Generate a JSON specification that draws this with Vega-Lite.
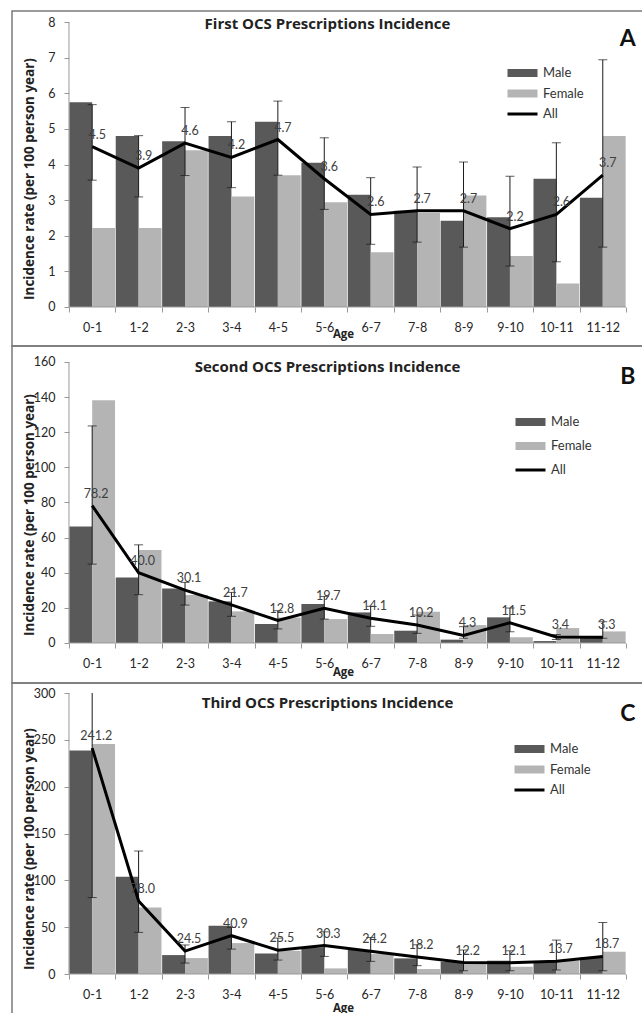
{
"$schema": "https://vega.github.io/schema/vega-lite/v6.json",
"padding": {"left": 11, "top": 10, "right": 0, "bottom": 0},
"spacing": 0,
"bounds": "flush",
"datasets": {
"bars": [
{"panel":"A","age":"0-1","sex":"Male","value":5.75},{"panel":"A","age":"1-2","sex":"Male","value":4.8},{"panel":"A","age":"2-3","sex":"Male","value":4.65},{"panel":"A","age":"3-4","sex":"Male","value":4.8},{"panel":"A","age":"4-5","sex":"Male","value":5.2},{"panel":"A","age":"5-6","sex":"Male","value":4.05},{"panel":"A","age":"6-7","sex":"Male","value":3.15},{"panel":"A","age":"7-8","sex":"Male","value":2.7},{"panel":"A","age":"8-9","sex":"Male","value":2.42},{"panel":"A","age":"9-10","sex":"Male","value":2.52},{"panel":"A","age":"10-11","sex":"Male","value":3.6},{"panel":"A","age":"11-12","sex":"Male","value":3.07},
{"panel":"A","age":"0-1","sex":"Female","value":2.22},{"panel":"A","age":"1-2","sex":"Female","value":2.22},{"panel":"A","age":"2-3","sex":"Female","value":4.4},{"panel":"A","age":"3-4","sex":"Female","value":3.1},{"panel":"A","age":"4-5","sex":"Female","value":3.7},{"panel":"A","age":"5-6","sex":"Female","value":2.94},{"panel":"A","age":"6-7","sex":"Female","value":1.54},{"panel":"A","age":"7-8","sex":"Female","value":2.64},{"panel":"A","age":"8-9","sex":"Female","value":3.13},{"panel":"A","age":"9-10","sex":"Female","value":1.43},{"panel":"A","age":"10-11","sex":"Female","value":0.66},{"panel":"A","age":"11-12","sex":"Female","value":4.8},
{"panel":"B","age":"0-1","sex":"Male","value":66.4},{"panel":"B","age":"1-2","sex":"Male","value":37.3},{"panel":"B","age":"2-3","sex":"Male","value":31.1},{"panel":"B","age":"3-4","sex":"Male","value":23.7},{"panel":"B","age":"4-5","sex":"Male","value":10.8},{"panel":"B","age":"5-6","sex":"Male","value":22.2},{"panel":"B","age":"6-7","sex":"Male","value":17.4},{"panel":"B","age":"7-8","sex":"Male","value":7.0},{"panel":"B","age":"8-9","sex":"Male","value":1.9},{"panel":"B","age":"9-10","sex":"Male","value":14.6},{"panel":"B","age":"10-11","sex":"Male","value":1.1},{"panel":"B","age":"11-12","sex":"Male","value":3.2},
{"panel":"B","age":"0-1","sex":"Female","value":138.2},{"panel":"B","age":"1-2","sex":"Female","value":52.9},{"panel":"B","age":"2-3","sex":"Female","value":27.3},{"panel":"B","age":"3-4","sex":"Female","value":18.0},{"panel":"B","age":"4-5","sex":"Female","value":14.5},{"panel":"B","age":"5-6","sex":"Female","value":13.6},{"panel":"B","age":"6-7","sex":"Female","value":5.1},{"panel":"B","age":"7-8","sex":"Female","value":17.8},{"panel":"B","age":"8-9","sex":"Female","value":10.2},{"panel":"B","age":"9-10","sex":"Female","value":3.2},{"panel":"B","age":"10-11","sex":"Female","value":8.5},{"panel":"B","age":"11-12","sex":"Female","value":6.6},
{"panel":"C","age":"0-1","sex":"Male","value":238.6},{"panel":"C","age":"1-2","sex":"Male","value":103.7},{"panel":"C","age":"2-3","sex":"Male","value":20.2},{"panel":"C","age":"3-4","sex":"Male","value":51.5},{"panel":"C","age":"4-5","sex":"Male","value":22.0},{"panel":"C","age":"5-6","sex":"Male","value":28.4},{"panel":"C","age":"6-7","sex":"Male","value":25.6},{"panel":"C","age":"7-8","sex":"Male","value":16.7},{"panel":"C","age":"8-9","sex":"Male","value":13.1},{"panel":"C","age":"9-10","sex":"Male","value":14.2},{"panel":"C","age":"10-11","sex":"Male","value":13.5},{"panel":"C","age":"11-12","sex":"Male","value":17.7},
{"panel":"C","age":"0-1","sex":"Female","value":245.6},{"panel":"C","age":"1-2","sex":"Female","value":71.0},{"panel":"C","age":"2-3","sex":"Female","value":17.0},{"panel":"C","age":"3-4","sex":"Female","value":33.0},{"panel":"C","age":"4-5","sex":"Female","value":24.8},{"panel":"C","age":"5-6","sex":"Female","value":6.0},{"panel":"C","age":"6-7","sex":"Female","value":21.3},{"panel":"C","age":"7-8","sex":"Female","value":5.3},{"panel":"C","age":"8-9","sex":"Female","value":10.6},{"panel":"C","age":"9-10","sex":"Female","value":7.8},{"panel":"C","age":"10-11","sex":"Female","value":14.2},{"panel":"C","age":"11-12","sex":"Female","value":23.8}
],
"all": [
{"panel":"A","age":"0-1","value":4.5,"lo":3.56,"hi":5.68},{"panel":"A","age":"1-2","value":3.9,"lo":3.09,"hi":4.81},{"panel":"A","age":"2-3","value":4.6,"lo":3.69,"hi":5.6},{"panel":"A","age":"3-4","value":4.2,"lo":3.35,"hi":5.2},{"panel":"A","age":"4-5","value":4.7,"lo":3.7,"hi":5.78},{"panel":"A","age":"5-6","value":3.6,"lo":2.74,"hi":4.75},{"panel":"A","age":"6-7","value":2.6,"lo":1.76,"hi":3.63},{"panel":"A","age":"7-8","value":2.7,"lo":1.82,"hi":3.93},{"panel":"A","age":"8-9","value":2.7,"lo":1.68,"hi":4.07},{"panel":"A","age":"9-10","value":2.2,"lo":1.15,"hi":3.67},{"panel":"A","age":"10-11","value":2.6,"lo":1.27,"hi":4.61},{"panel":"A","age":"11-12","value":3.7,"lo":1.68,"hi":6.94},
{"panel":"B","age":"0-1","value":78.2,"lo":44.9,"hi":123.6},{"panel":"B","age":"1-2","value":40.0,"lo":27.5,"hi":55.9},{"panel":"B","age":"2-3","value":30.1,"lo":21.6,"hi":34.5},{"panel":"B","age":"3-4","value":21.7,"lo":15.2,"hi":28.8},{"panel":"B","age":"4-5","value":12.8,"lo":8.0,"hi":18.4},{"panel":"B","age":"5-6","value":19.7,"lo":13.6,"hi":26.5},{"panel":"B","age":"6-7","value":14.1,"lo":9.5,"hi":20.9},{"panel":"B","age":"7-8","value":10.2,"lo":5.5,"hi":15.9},{"panel":"B","age":"8-9","value":4.3,"lo":2.7,"hi":9.3},{"panel":"B","age":"9-10","value":11.5,"lo":6.4,"hi":19.9},{"panel":"B","age":"10-11","value":3.4,"lo":2.0,"hi":4.8},{"panel":"B","age":"11-12","value":3.3,"lo":2.7,"hi":12.1},
{"panel":"C","age":"0-1","value":241.2,"lo":81.6,"hi":300},{"panel":"C","age":"1-2","value":78.0,"lo":44.4,"hi":131.3},{"panel":"C","age":"2-3","value":24.5,"lo":11.7,"hi":31.0},{"panel":"C","age":"3-4","value":40.9,"lo":26.6,"hi":49.7},{"panel":"C","age":"4-5","value":25.5,"lo":14.9,"hi":38.3},{"panel":"C","age":"5-6","value":30.3,"lo":18.8,"hi":45.0},{"panel":"C","age":"6-7","value":24.2,"lo":13.5,"hi":39.0},{"panel":"C","age":"7-8","value":18.2,"lo":8.9,"hi":31.2},{"panel":"C","age":"8-9","value":12.2,"lo":3.5,"hi":25.6},{"panel":"C","age":"9-10","value":12.1,"lo":3.5,"hi":24.8},{"panel":"C","age":"10-11","value":13.7,"lo":4.3,"hi":36.2},{"panel":"C","age":"11-12","value":18.7,"lo":3.5,"hi":55.0}
]
},
"vconcat": [
{
"width": 631, "height": 335,
"title": {"text": "First OCS Prescriptions Incidence", "offset": -21},
"encoding": {"x": {"field": "age", "type": "nominal",
  "scale": {"domain": ["0-1","1-2","2-3","3-4","4-5","5-6","6-7","7-8","8-9","9-10","10-11","11-12"], "paddingInner": 0, "paddingOuter": 0.797, "align": 0.77},
  "axis": {"title": "Age", "titleX": 331, "titlePadding": -5, "offset": -39}}},
"layer": [
{"data": {"name": "bars"}, "transform": [{"filter": "datum.panel === 'A'"}], "mark": {"type": "bar"},
 "encoding": {
  "xOffset": {"field": "sex", "type": "nominal", "sort": ["Male","Female"], "scale": {"paddingInner": 0, "paddingOuter": 0.015}},
  "y": {"field": "value", "type": "quantitative", "scale": {"domain": [-1.095, 8.309], "nice": false, "zero": false},
   "axis": {"title": "Incidence rate (per 100 person year)", "values": [0,1,2,3,4,5,6,7,8], "offset": -57}},
  "color": {"field": "sex", "type": "nominal", "scale": {"domain": ["Male","Female","All"], "range": ["#595959","#b4b4b4","#000000"]},
   "legend": {"orient": "none", "legendX": 504, "legendY": 55.5, "title": null, "rowPadding": 6.5,
    "encode": {"symbols": {"update": {"shape": {"signal": "datum.value === 'All' ? 'M-3,-0.3H3V0.3H-3Z' : 'M-3,-0.8H3V0.8H-3Z'"}, "fill": {"signal": "datum.value === 'Male' ? '#595959' : datum.value === 'Female' ? '#b4b4b4' : '#000000'"}, "stroke": {"value": "transparent"}, "opacity": {"value": 1}}}}}}
 }},
{"data": {"values": [{}]}, "mark": {"type": "rule", "color": "#9a9a9a", "strokeWidth": 1},
 "encoding": {"x": {"datum": "0-1", "type": "nominal", "bandPosition": 0}, "y": {"datum": 0, "type": "quantitative"}, "y2": {"datum": 8}}},
{"data": {"values": [{}]}, "mark": {"type": "rule", "color": "#9a9a9a", "strokeWidth": 1},
 "encoding": {"x": {"datum": "0-1", "type": "nominal", "bandPosition": 0}, "x2": {"datum": "11-12", "bandPosition": 1}, "y": {"datum": 0, "type": "quantitative"}}},
{"data": {"name": "all"}, "transform": [{"filter": "datum.panel === 'A'"}], "mark": {"type": "rule", "color": "#1a1a1a", "strokeWidth": 1},
 "encoding": {"y": {"field": "lo", "type": "quantitative"}, "y2": {"field": "hi"}}},
{"data": {"name": "all"}, "transform": [{"filter": "datum.panel === 'A'"}, {"fold": ["lo","hi"], "as": ["k","v"]}, {"filter": "datum.v < 300"}], "mark": {"type": "tick", "color": "#1a1a1a", "thickness": 1, "size": 9},
 "encoding": {"y": {"field": "v", "type": "quantitative"}}},
{"data": {"name": "all"}, "transform": [{"filter": "datum.panel === 'A'"}], "mark": {"type": "line", "color": "#000000", "strokeWidth": 3},
 "encoding": {"y": {"field": "value", "type": "quantitative"}, "order": {"value": null}}},
{"data": {"name": "all"}, "transform": [{"filter": "datum.panel === 'A'"}], "mark": {"type": "text", "fontSize": 12.5, "color": "#404040", "dx": 5, "dy": -12},
 "encoding": {"y": {"field": "value", "type": "quantitative"}, "text": {"field": "value", "type": "quantitative", "format": ".1f"}}},
{"data": {"values": [{}]}, "mark": {"type": "text", "text": "A", "fontSize": 23, "fontWeight": "bold", "color": "#111111", "dx": 25},
 "encoding": {"x": {"datum": "11-12", "type": "nominal"}, "y": {"datum": 7.52, "type": "quantitative"}}}
]
},
{
"width": 631, "height": 337,
"title": {"text": "Second OCS Prescriptions Incidence", "offset": -29},
"encoding": {"x": {"field": "age", "type": "nominal",
  "scale": {"domain": ["0-1","1-2","2-3","3-4","4-5","5-6","6-7","7-8","8-9","9-10","10-11","11-12"], "paddingInner": 0, "paddingOuter": 0.797, "align": 0.77},
  "axis": {"title": "Age", "titleX": 331, "titlePadding": -3, "offset": -40}}},
"layer": [
{"data": {"name": "bars"}, "transform": [{"filter": "datum.panel === 'B'"}], "mark": {"type": "bar"},
 "encoding": {
  "xOffset": {"field": "sex", "type": "nominal", "sort": ["Male","Female"], "scale": {"paddingInner": 0, "paddingOuter": 0.015}},
  "y": {"field": "value", "type": "quantitative", "scale": {"domain": [-22.78, 169.11], "nice": false, "zero": false},
   "axis": {"title": "Incidence rate (per 100 person year)", "values": [0,20,40,60,80,100,120,140,160], "offset": -57}},
  "color": {"field": "sex", "type": "nominal", "scale": {"domain": ["Male","Female","All"], "range": ["#595959","#b4b4b4","#000000"]},
   "legend": {"orient": "none", "legendX": 512, "legendY": 69.5, "title": null, "rowPadding": 10,
    "encode": {"symbols": {"update": {"shape": {"signal": "datum.value === 'All' ? 'M-3,-0.3H3V0.3H-3Z' : 'M-3,-0.8H3V0.8H-3Z'"}, "fill": {"signal": "datum.value === 'Male' ? '#595959' : datum.value === 'Female' ? '#b4b4b4' : '#000000'"}, "stroke": {"value": "transparent"}, "opacity": {"value": 1}}}}}}
 }},
{"data": {"values": [{}]}, "mark": {"type": "rule", "color": "#9a9a9a", "strokeWidth": 1},
 "encoding": {"x": {"datum": "0-1", "type": "nominal", "bandPosition": 0}, "y": {"datum": 0, "type": "quantitative"}, "y2": {"datum": 160}}},
{"data": {"values": [{}]}, "mark": {"type": "rule", "color": "#9a9a9a", "strokeWidth": 1},
 "encoding": {"x": {"datum": "0-1", "type": "nominal", "bandPosition": 0}, "x2": {"datum": "11-12", "bandPosition": 1}, "y": {"datum": 0, "type": "quantitative"}}},
{"data": {"name": "all"}, "transform": [{"filter": "datum.panel === 'B'"}], "mark": {"type": "rule", "color": "#1a1a1a", "strokeWidth": 1},
 "encoding": {"y": {"field": "lo", "type": "quantitative"}, "y2": {"field": "hi"}}},
{"data": {"name": "all"}, "transform": [{"filter": "datum.panel === 'B'"}, {"fold": ["lo","hi"], "as": ["k","v"]}, {"filter": "datum.v < 300"}], "mark": {"type": "tick", "color": "#1a1a1a", "thickness": 1, "size": 9},
 "encoding": {"y": {"field": "v", "type": "quantitative"}}},
{"data": {"name": "all"}, "transform": [{"filter": "datum.panel === 'B'"}], "mark": {"type": "line", "color": "#000000", "strokeWidth": 3},
 "encoding": {"y": {"field": "value", "type": "quantitative"}, "order": {"value": null}}},
{"data": {"name": "all"}, "transform": [{"filter": "datum.panel === 'B'"}], "mark": {"type": "text", "fontSize": 12.5, "color": "#404040", "dx": 4, "dy": -12},
 "encoding": {"y": {"field": "value", "type": "quantitative"}, "text": {"field": "value", "type": "quantitative", "format": ".1f"}}},
{"data": {"values": [{}]}, "mark": {"type": "text", "text": "B", "fontSize": 23, "fontWeight": "bold", "color": "#111111", "dx": 25},
 "encoding": {"x": {"datum": "11-12", "type": "nominal"}, "y": {"datum": 151.5, "type": "quantitative"}}}
]
},
{
"width": 631, "height": 331,
"title": {"text": "Third OCS Prescriptions Incidence", "offset": -28},
"encoding": {"x": {"field": "age", "type": "nominal",
  "scale": {"domain": ["0-1","1-2","2-3","3-4","4-5","5-6","6-7","7-8","8-9","9-10","10-11","11-12"], "paddingInner": 0, "paddingOuter": 0.797, "align": 0.77},
  "axis": {"title": "Age", "titleX": 331, "titlePadding": 2, "offset": -40}}},
"layer": [
{"data": {"name": "bars"}, "transform": [{"filter": "datum.panel === 'C'"}], "mark": {"type": "bar"},
 "encoding": {
  "xOffset": {"field": "sex", "type": "nominal", "sort": ["Male","Female"], "scale": {"paddingInner": 0, "paddingOuter": 0.015}},
  "y": {"field": "value", "type": "quantitative", "scale": {"domain": [-42.7, 310.68], "nice": false, "zero": false},
   "axis": {"title": "Incidence rate (per 100 person year)", "values": [0,50,100,150,200,250,300], "offset": -57}},
  "color": {"field": "sex", "type": "nominal", "scale": {"domain": ["Male","Female","All"], "range": ["#595959","#b4b4b4","#000000"]},
   "legend": {"orient": "none", "legendX": 511, "legendY": 59.5, "title": null, "rowPadding": 6.5,
    "encode": {"symbols": {"update": {"shape": {"signal": "datum.value === 'All' ? 'M-3,-0.3H3V0.3H-3Z' : 'M-3,-0.8H3V0.8H-3Z'"}, "fill": {"signal": "datum.value === 'Male' ? '#595959' : datum.value === 'Female' ? '#b4b4b4' : '#000000'"}, "stroke": {"value": "transparent"}, "opacity": {"value": 1}}}}}}
 }},
{"data": {"values": [{}]}, "mark": {"type": "rule", "color": "#9a9a9a", "strokeWidth": 1},
 "encoding": {"x": {"datum": "0-1", "type": "nominal", "bandPosition": 0}, "y": {"datum": 0, "type": "quantitative"}, "y2": {"datum": 300}}},
{"data": {"values": [{}]}, "mark": {"type": "rule", "color": "#9a9a9a", "strokeWidth": 1},
 "encoding": {"x": {"datum": "0-1", "type": "nominal", "bandPosition": 0}, "x2": {"datum": "11-12", "bandPosition": 1}, "y": {"datum": 0, "type": "quantitative"}}},
{"data": {"name": "all"}, "transform": [{"filter": "datum.panel === 'C'"}], "mark": {"type": "rule", "color": "#1a1a1a", "strokeWidth": 1},
 "encoding": {"y": {"field": "lo", "type": "quantitative"}, "y2": {"field": "hi"}}},
{"data": {"name": "all"}, "transform": [{"filter": "datum.panel === 'C'"}, {"fold": ["lo","hi"], "as": ["k","v"]}, {"filter": "datum.v < 300"}], "mark": {"type": "tick", "color": "#1a1a1a", "thickness": 1, "size": 9},
 "encoding": {"y": {"field": "v", "type": "quantitative"}}},
{"data": {"name": "all"}, "transform": [{"filter": "datum.panel === 'C'"}], "mark": {"type": "line", "color": "#000000", "strokeWidth": 3},
 "encoding": {"y": {"field": "value", "type": "quantitative"}, "order": {"value": null}}},
{"data": {"name": "all"}, "transform": [{"filter": "datum.panel === 'C'"}], "mark": {"type": "text", "fontSize": 12.5, "color": "#404040", "dx": 4, "dy": -12},
 "encoding": {"y": {"field": "value", "type": "quantitative"}, "text": {"field": "value", "type": "quantitative", "format": ".1f"}}},
{"data": {"values": [{}]}, "mark": {"type": "text", "text": "C", "fontSize": 23, "fontWeight": "bold", "color": "#111111", "dx": 25},
 "encoding": {"x": {"datum": "11-12", "type": "nominal"}, "y": {"datum": 277.6, "type": "quantitative"}}}
]
}
],
"resolve": {"scale": {"x": "independent", "y": "independent", "color": "independent", "xOffset": "independent"}, "legend": {"color": "independent"}, "axis": {"x": "independent", "y": "independent"}},
"config": {
 "font": "Lato",
 "view": {"stroke": "#7a7a7a", "strokeWidth": 1.5},
 "title": {"font": "Open Sans", "fontSize": 15, "fontWeight": "bold", "color": "#222222", "anchor": "middle", "baseline": "alphabetic"},
 "axis": {"labelFont": "Lato", "titleFont": "Open Sans", "labelFontSize": 12.5, "labelColor": "#262626", "titleFontSize": 13.5, "titleFontWeight": "bold", "titleColor": "#222222", "grid": false, "domain": false, "tickSize": 5, "tickColor": "#999999", "labelPadding": 9},
 "axisX": {"labelAngle": 0, "tickBand": "extent", "titleFontSize": 11.5},
 "axisY": {"titleX": -40, "titleBaseline": "middle"},
 "legend": {"labelFont": "Lato", "labelFontSize": 13, "labelColor": "#333333", "symbolSize": 100, "labelOffset": 14, "padding": 0, "symbolStrokeWidth": 0},
 "text": {"font": "Lato"}
}
}
